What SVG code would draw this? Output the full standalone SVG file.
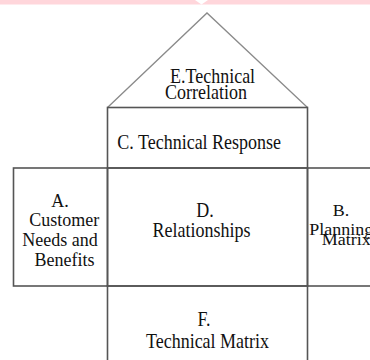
<svg xmlns="http://www.w3.org/2000/svg" width="370" height="360" viewBox="0 0 370 360">
  <style>
    .frame { fill: none; stroke: #555; stroke-width: 1.6; }
    .roof { fill: none; stroke: #8a8a8a; stroke-width: 1.3; stroke-linejoin: miter; }
    .lbl { font-family: "Liberation Serif", "Times New Roman", serif; font-size: 18px; fill: #111; }
  </style>

  <!-- top band -->
  <rect x="0" y="0" width="370" height="4.5" fill="#ffd6db"/>
  <polygon points="195,0 208,0 201.5,4.5" fill="#fff"/>

  <!-- E: roof, technical correlation -->
  <g id="node-e">
    <polyline class="roof" points="107.5,107.5 207,13 307.5,107.5"/>
    <text class="lbl" transform="translate(170,82.7) scale(1,1.13)">E.Technical</text>
    <text class="lbl" transform="translate(165,99.3) scale(1,1.13)">Correlation</text>
  </g>

  <!-- C: technical response -->
  <g id="node-c">
    <rect class="frame" x="107.5" y="107.5" width="200" height="60.5"/>
    <text class="lbl" transform="translate(117.3,149) scale(1,1.18)">C. Technical Response</text>
  </g>

  <!-- A: customer needs -->
  <g id="node-a">
    <rect class="frame" x="13.5" y="168" width="94" height="118"/>
    <text class="lbl" text-anchor="middle" x="60" y="206.7">A.</text>
    <text class="lbl" text-anchor="middle" x="64.3" y="226">Customer</text>
    <text class="lbl" text-anchor="middle" x="60" y="245.5">Needs and</text>
    <text class="lbl" text-anchor="middle" x="64.5" y="266">Benefits</text>
  </g>

  <!-- D: relationships -->
  <g id="node-d">
    <rect class="frame" x="107.5" y="168" width="200" height="118"/>
    <text class="lbl" text-anchor="middle" transform="translate(205,217) scale(1,1.15)">D.</text>
    <text class="lbl" text-anchor="middle" transform="translate(201.5,237) scale(1,1.15)">Relationships</text>
  </g>

  <!-- B: planning matrix -->
  <g id="node-b">
    <rect class="frame" x="307.5" y="168" width="70" height="118"/>
    <text class="lbl" text-anchor="middle" transform="translate(341,215.5) scale(1,0.9)">B.</text>
    <text class="lbl" transform="translate(309.3,234.5) scale(1,0.9)">Planning</text>
    <text class="lbl" transform="translate(321.7,244.5) scale(1,0.9)">Matrix</text>
  </g>

  <!-- F: technical matrix -->
  <g id="node-f">
    <rect class="frame" x="107.5" y="286" width="200" height="80"/>
    <text class="lbl" text-anchor="middle" transform="translate(204,326) scale(1,1.18)">F.</text>
    <text class="lbl" text-anchor="middle" transform="translate(207.5,348.3) scale(1,1.18)">Technical Matrix</text>
  </g>
</svg>
